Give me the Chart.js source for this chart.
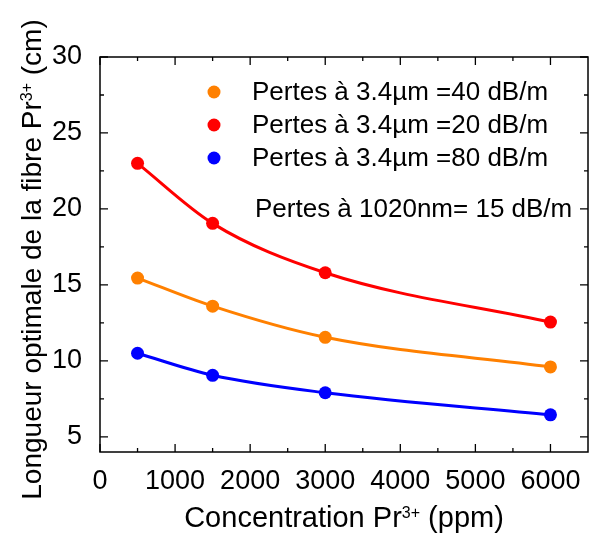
<!DOCTYPE html>
<html>
<head>
<meta charset="utf-8">
<script src="https://cdn.jsdelivr.net/npm/chart.js@4.4.0/dist/chart.umd.min.js"></script>
<style>
  html, body { margin: 0; padding: 0; background: #ffffff; }
  #wrap { width: 590px; height: 536px; }
</style>
</head>
<body>
<div id="wrap"><canvas id="c" width="590" height="536"></canvas></div>
<script>
// ---- data ----
const concentrations = [500, 1500, 3000, 6000];          // ppm
const loss40 = [15.45, 13.6, 11.55, 9.6];                // cm, losses 40 dB/m
const loss20 = [23.0, 19.05, 15.8, 12.55];               // cm, losses 20 dB/m
const loss80 = [10.5, 9.05, 7.9, 6.45];                  // cm, losses 80 dB/m
const seriesLabels = [
  "Pertes à 3.4µm =40 dB/m",
  "Pertes à 3.4µm =20 dB/m",
  "Pertes à 3.4µm =80 dB/m"
];
const noteText = "Pertes à 1020nm= 15 dB/m";
const xTickValues = [0, 1000, 2000, 3000, 4000, 5000, 6000];
const yTickValues = [5, 10, 15, 20, 25, 30];
const xTitleParts = ["Concentration Pr", "3+", " (ppm)"];
const yTitleParts = ["Longueur optimale de la fibre Pr", "3+", " (cm)"];

const FONT = "'Liberation Sans', Arial, Helvetica, sans-serif";
const colors = ["rgb(255,128,0)", "rgb(255,0,0)", "rgb(0,0,255)"];
const seriesValues = [loss40, loss20, loss80];

const datasets = seriesValues.map((vals, i) => ({
  label: seriesLabels[i],
  data: concentrations.map((x, j) => ({ x: x, y: vals[j] })),
  borderColor: colors[i],
  backgroundColor: colors[i],
  borderWidth: 3,
  pointRadius: 6.5,
  pointHoverRadius: 6.5,
  pointBorderWidth: 0,
  cubicInterpolationMode: 'monotone',
  fill: false
}));

function measureSup(ctx, parts, baseFont, supFont) {
  ctx.font = baseFont;
  const w0 = ctx.measureText(parts[0]).width;
  const w2 = ctx.measureText(parts[2]).width;
  ctx.font = supFont;
  const w1 = ctx.measureText(parts[1]).width;
  return { w0, w1, w2, total: w0 + w1 + w2 };
}
function renderSupText(ctx, parts, cx, baseline, baseFont, supFont, supRise) {
  const m = measureSup(ctx, parts, baseFont, supFont);
  let x = cx - m.total / 2;
  ctx.textBaseline = 'alphabetic';
  ctx.textAlign = 'left';
  ctx.font = baseFont;
  ctx.fillText(parts[0], x, baseline);
  x += m.w0;
  ctx.font = supFont;
  ctx.fillText(parts[1], x, baseline - supRise);
  x += m.w1;
  ctx.font = baseFont;
  ctx.fillText(parts[2], x, baseline);
}

const framePlugin = {
  id: 'framePlugin',
  afterDraw(chart) {
    const ctx = chart.ctx;
    const a = chart.chartArea;
    const xs = chart.scales.x, ys = chart.scales.y;
    ctx.save();
    ctx.strokeStyle = '#000';
    ctx.lineWidth = 1.5;
    ctx.strokeRect(a.left, a.top, a.right - a.left, a.bottom - a.top);
    ctx.lineWidth = 1.3;
    ctx.beginPath();
    const majorLen = 8, minorLen = 4;
    xTickValues.forEach((v) => {
      const px = xs.getPixelForValue(v);
      ctx.moveTo(px, a.bottom); ctx.lineTo(px, a.bottom - majorLen);
      ctx.moveTo(px, a.top); ctx.lineTo(px, a.top + majorLen);
      const mid = v + (xTickValues[1] - xTickValues[0]) / 2;
      if (mid < xs.max) {
        const pm = xs.getPixelForValue(mid);
        ctx.moveTo(pm, a.bottom); ctx.lineTo(pm, a.bottom - minorLen);
        ctx.moveTo(pm, a.top); ctx.lineTo(pm, a.top + minorLen);
      }
    });
    yTickValues.forEach((v) => {
      const py = ys.getPixelForValue(v);
      ctx.moveTo(a.left, py); ctx.lineTo(a.left + majorLen, py);
      ctx.moveTo(a.right, py); ctx.lineTo(a.right - majorLen, py);
      const mid = v + (yTickValues[1] - yTickValues[0]) / 2;
      if (mid < ys.max) {
        const pm = ys.getPixelForValue(mid);
        ctx.moveTo(a.left, pm); ctx.lineTo(a.left + minorLen, pm);
        ctx.moveTo(a.right, pm); ctx.lineTo(a.right - minorLen, pm);
      }
    });
    ctx.stroke();

    // legend
    ctx.fillStyle = '#000';
    ctx.font = "26px " + FONT;
    ctx.textBaseline = 'middle';
    ctx.textAlign = 'left';
    const legY = [92, 125, 158];
    seriesLabels.forEach((lab, i) => {
      ctx.fillStyle = colors[i];
      ctx.beginPath();
      ctx.arc(214, legY[i], 6.5, 0, Math.PI * 2);
      ctx.fill();
      ctx.fillStyle = '#000';
      ctx.fillText(lab, 252, legY[i] + 1);
    });
    ctx.fillText(noteText, 255, 210);

    // axis titles
    const supFont = "16px " + FONT;
    ctx.fillStyle = '#000';
    renderSupText(ctx, xTitleParts, (a.left + a.right) / 2, 527, "29px " + FONT, supFont, 9);
    ctx.save();
    ctx.translate(41, (a.top + a.bottom) / 2 + 5);
    ctx.rotate(-Math.PI / 2);
    renderSupText(ctx, yTitleParts, 0, 0, "28px " + FONT, supFont, 9);
    ctx.restore();
    ctx.restore();
  }
};

new Chart(document.getElementById('c'), {
  type: 'line',
  data: { datasets: datasets },
  options: {
    responsive: false,
    animation: false,
    layout: { autoPadding: false, padding: { left: 0, right: 2, top: 57, bottom: 0 } },
    plugins: {
      legend: { display: false },
      tooltip: { enabled: false },
      title: { display: false }
    },
    scales: {
      x: {
        type: 'linear',
        min: 0,
        max: 6500,
        afterBuildTicks(scale) { scale.ticks = xTickValues.map(v => ({ value: v })); },
        afterFit(scale) { scale.height = 84; scale.paddingLeft = 0; scale.paddingRight = 0; },
        grid: { display: false },
        border: { display: false },
        ticks: {
          padding: 5,
          color: '#000',
          font: { family: FONT, size: 27 },
          maxRotation: 0,
          autoSkip: false,
          callback: (v) => String(v)
        }
      },
      y: {
        type: 'linear',
        min: 4,
        max: 30,
        afterBuildTicks(scale) { scale.ticks = yTickValues.map(v => ({ value: v })); },
        afterFit(scale) { scale.width = 100; scale.paddingTop = 0; scale.paddingBottom = 0; },
        grid: { display: false },
        border: { display: false },
        ticks: {
          padding: 10,
          color: '#000',
          font: { family: FONT, size: 27 },
          autoSkip: false,
          callback: (v) => String(v)
        }
      }
    }
  },
  plugins: [framePlugin]
});
</script>
</body>
</html>
